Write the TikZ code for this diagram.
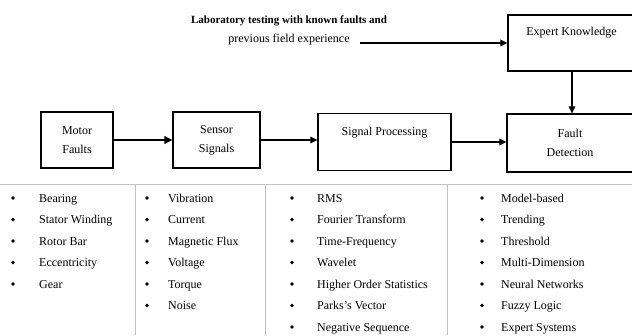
\documentclass[tikz,border=0pt]{standalone}
\usepackage{fontspec}
\setmainfont{Liberation Serif}
\usetikzlibrary{arrows.meta}
\definecolor{rulegray}{HTML}{C4C4C4}
\tikzset{
  box/.style={draw=black, line width=1.1pt, inner sep=0pt, align=center, font=\fontsize{12}{19}\selectfont},
  lab/.style={inner sep=0pt, align=center, font=\fontsize{12}{19}\selectfont},
  flow/.style={draw=black, line width=1.5pt, -{Triangle[length=7pt,width=6.5pt]}},
  bigflow/.style={draw=black, line width=2.6pt, -{Triangle[length=8pt,width=7.5pt]}},
  sep/.style={draw=rulegray, line width=0.8pt},
  item/.style={anchor=base west, inner sep=0pt, font=\fontsize{12}{14}\selectfont},
  dot/.style={circle, fill=black, inner sep=0pt, minimum size=3.6pt},
}

\begin{document}
\begin{tikzpicture}[x=1pt, y=-1pt]
  \useasboundingbox (0,0) rectangle (632,335);
  \clip (0,0) rectangle (632,335);

  % flow boxes
  \node[box, minimum width=72pt, minimum height=56pt] (motor) at (77,140) {Motor\\Faults};
  \node[box, minimum width=87pt, minimum height=56pt] (sensor) at (216.5,140) {Sensor\\Signals};
  \node[box, minimum width=133pt, minimum height=57pt,
        label={[lab,anchor=center,yshift=-19.5pt]north:Signal Processing}] (proc) at (384.5,142) {};
  \node[box, minimum width=126pt, minimum height=58pt] (fault) at (570,143) {Fault\\Detection};
  \node[box, minimum width=127pt, minimum height=56pt,
        label={[lab,anchor=center,yshift=-18pt]north:Expert Knowledge}] (expert) at (571.5,43) {};

  % prior knowledge
  \node[lab] (prior) at (289,30.5) {{\fontsize{11}{19}\selectfont\bfseries Laboratory testing with known faults and}\\previous field experience};
  \coordinate (priorend) at (360,43);

  \draw[bigflow] (motor) -- (sensor);
  \draw[flow] (sensor.east) -- (proc.west |- sensor.east);
  \draw[flow] (proc.east) -- (fault.west |- proc.east);
  \draw[flow] (priorend) -- (expert.west |- priorend);
  \draw[flow] (expert.south -| 572,0) -- (fault.north -| 572,0);

  % table rules
  \coordinate (rl) at (0,184);
  \coordinate (rr) at (632,184);
  \draw[sep] (rl) -- (rr);
  \foreach \vx in {135,265,447}
    \draw[sep] (\vx,184) -- (\vx,335);

  % lists
  \foreach \txt [count=\i] in {Bearing, Stator Winding, Rotor Bar, Eccentricity, Gear} {
    \node[dot] (ab\i) at (13,{198+(\i-1)*21.5}) {};
    \node[item] (a\i) at (39,{202+(\i-1)*21.5}) {\txt};
  }
  \foreach \txt [count=\i] in {Vibration, Current, Magnetic Flux, Voltage, Torque, Noise} {
    \node[dot] (bb\i) at (147,{198+(\i-1)*21.5}) {};
    \node[item] (b\i) at (168,{202+(\i-1)*21.5}) {\txt};
  }
  \foreach \txt [count=\i] in {RMS, Fourier Transform, Time-Frequency, Wavelet, Higher Order Statistics, Parks's Vector, Negative Sequence} {
    \node[dot] (cb\i) at (292,{198+(\i-1)*21.5}) {};
    \node[item] (c\i) at (317,{202+(\i-1)*21.5}) {\txt};
  }
  \foreach \txt [count=\i] in {Model-based, Trending, Threshold, Multi-Dimension, Neural Networks, Fuzzy Logic, Expert Systems} {
    \node[dot] (db\i) at (482,{198+(\i-1)*21.5}) {};
    \node[item] (d\i) at (501,{202+(\i-1)*21.5}) {\txt};
  }
\end{tikzpicture}
\end{document}
